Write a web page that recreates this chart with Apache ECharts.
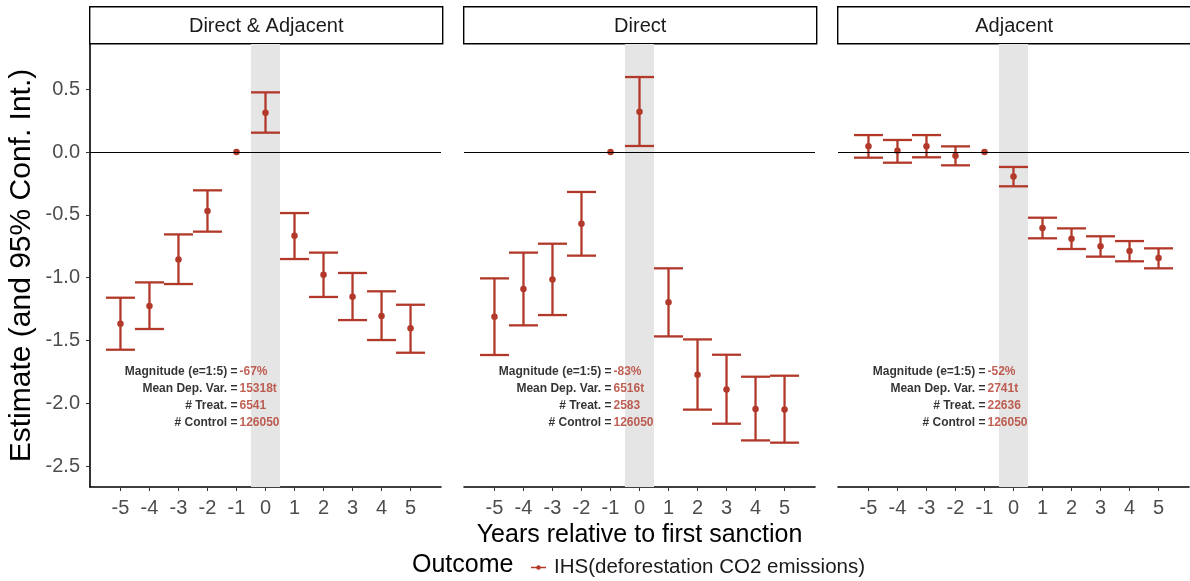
<!DOCTYPE html>
<html>
<head>
<meta charset="utf-8">
<script src="https://cdn.jsdelivr.net/npm/echarts@6/dist/echarts.min.js"></script>
<style>html,body{margin:0;padding:0;background:#fff}#c{width:1190px;height:581px}</style>
</head>
<body>
<div id="c"></div>
<script>
// ---------- data ----------
const events = [-5, -4, -3, -2, -1, 0, 1, 2, 3, 4, 5];
const panelTitles = ['Direct & Adjacent', 'Direct', 'Adjacent'];

const estDA = [-1.367, -1.226, -0.855, -0.470, 0, 0.313, -0.666, -0.977, -1.152, -1.306, -1.404];
const loDA  = [-1.574, -1.409, -1.051, -0.634, null, 0.154, -0.852, -1.154, -1.338, -1.497, -1.598];
const hiDA  = [-1.160, -1.038, -0.656, -0.305, null, 0.475, -0.486, -0.801, -0.963, -1.109, -1.216];

const estD = [-1.311, -1.091, -1.014, -0.571, 0, 0.321, -1.197, -1.773, -1.890, -2.046, -2.049];
const loD  = [-1.616, -1.380, -1.298, -0.825, null, 0.048, -1.468, -2.051, -2.163, -2.296, -2.314];
const hiD  = [-1.006, -0.801, -0.730, -0.318, null, 0.597, -0.926, -1.492, -1.614, -1.789, -1.781];

const estA = [0.045, 0.010, 0.045, -0.029, 0, -0.194, -0.605, -0.690, -0.751, -0.788, -0.844];
const loA  = [-0.045, -0.085, -0.042, -0.106, null, -0.273, -0.687, -0.772, -0.833, -0.870, -0.926];
const hiA  = [0.135, 0.096, 0.135, 0.045, null, -0.119, -0.523, -0.608, -0.671, -0.709, -0.767];

const xTicks = [-5, -4, -3, -2, -1, 0, 1, 2, 3, 4, 5];
const yTicks = [-2.5, -2.0, -1.5, -1.0, -0.5, 0.0, 0.5];

const statLabels = ['Magnitude (e=1:5) =', 'Mean Dep. Var. =', '# Treat. =', '# Control ='];
const statRowsY = [-1.75, -1.885, -2.02, -2.155];
const statX = -1;
const magnitude = ['-67%', '-83%', '-52%'];
const meanDep = ['15318t', '6516t', '2741t'];
const nTreat = ['6541', '2583', '22636'];
const nControl = ['126050', '126050', '126050'];

const seriesName = 'IHS(deforestation CO2 emissions)';
// ---------------------------

const RED = '#B2392A';
const FONT = 'Liberation Sans, Arial, sans-serif';
const panels = [
  {est: estDA, lo: loDA, hi: hiDA},
  {est: estD, lo: loD, hi: hiD},
  {est: estA, lo: loA, hi: hiA}
];
const gridLefts = [90, 464, 838];
const gridW = 351, gridTop = 44, gridH = 443;

const grids = [], xAxes = [], yAxes = [], series = [], graphics = [];

panels.forEach((p, i) => {
  grids.push({left: gridLefts[i], top: gridTop, width: gridW, height: gridH, outerBoundsMode: 'none', containLabel: false});
  xAxes.push({
    type: 'value', gridIndex: i, min: -6.05, max: 6.05,
    splitLine: {show: false},
    axisLine: {show: true, onZero: false, lineStyle: {color: '#000', width: 1.6}},
    axisTick: {show: true, length: 4, lineStyle: {color: '#333', width: 1}, customValues: xTicks},
    axisLabel: {show: true, customValues: xTicks, color: '#4d4d4d', fontSize: 20, margin: 11, fontFamily: FONT},
    name: i === 1 ? 'Years relative to first sanction' : '',
    nameLocation: 'middle', nameGap: 32,
    nameTextStyle: {color: '#000', fontSize: 25, fontFamily: FONT}
  });
  yAxes.push({
    type: 'value', gridIndex: i, min: -2.667, max: 0.86,
    splitLine: {show: false},
    axisLine: {show: i === 0, onZero: false, lineStyle: {color: '#000', width: 1.6}},
    axisTick: {show: i === 0, length: 4, lineStyle: {color: '#333', width: 1}, customValues: yTicks},
    axisLabel: {show: i === 0, customValues: yTicks, color: '#4d4d4d', fontSize: 20, margin: 10,
      fontFamily: FONT, formatter: v => v.toFixed(1)},
    name: i === 0 ? 'Estimate (and 95% Conf. Int.)' : '',
    nameLocation: 'middle', nameGap: 53,
    nameTextStyle: {color: '#000', fontSize: 30, fontFamily: FONT}
  });

  // shaded band + zero line
  series.push({
    type: 'line', xAxisIndex: i, yAxisIndex: i, data: [], silent: true, z: 1,
    markArea: {silent: true, itemStyle: {color: '#e5e5e5'}, data: [[{xAxis: -0.5}, {xAxis: 0.5}]]},
    markLine: {silent: true, symbol: ['none', 'none'], label: {show: false},
      lineStyle: {color: '#000', width: 1, type: 'solid'}, data: [{yAxis: 0}]}
  });

  // error bars
  const ebData = [];
  events.forEach((e, k) => { if (p.lo[k] !== null && p.hi[k] !== null) ebData.push([e, p.lo[k], p.hi[k]]); });
  series.push({
    type: 'custom', xAxisIndex: i, yAxisIndex: i, z: 3, silent: true,
    data: ebData,
    renderItem: (params, api) => {
      const x = api.value(0), lo = api.value(1), hi = api.value(2);
      const pl = api.coord([x, lo]), ph = api.coord([x, hi]);
      const xl = api.coord([x - 0.5, lo])[0], xr = api.coord([x + 0.5, lo])[0];
      const st = {stroke: RED, lineWidth: 2.3};
      return {type: 'group', children: [
        {type: 'line', shape: {x1: pl[0], y1: pl[1], x2: ph[0], y2: ph[1]}, style: st},
        {type: 'line', shape: {x1: xl, y1: pl[1], x2: xr, y2: pl[1]}, style: st},
        {type: 'line', shape: {x1: xl, y1: ph[1], x2: xr, y2: ph[1]}, style: st}
      ]};
    }
  });

  // points
  series.push({
    name: seriesName, type: 'scatter', xAxisIndex: i, yAxisIndex: i, z: 4,
    symbolSize: 6.5, itemStyle: {color: RED, opacity: 1},
    data: events.map((e, k) => [e, p.est[k]])
  });

  // stats text
  const vals = [magnitude[i], meanDep[i], nTreat[i], nControl[i]];
  series.push({
    type: 'scatter', xAxisIndex: i, yAxisIndex: i, z: 5, symbolSize: 0, silent: true,
    data: statRowsY.map((y, r) => ({value: [statX, y], lab: statLabels[r]})),
    label: {show: true, position: 'left', distance: -1, color: '#000', fontWeight: 'bold', fontSize: 12,
      fontFamily: FONT, formatter: pr => pr.data.lab}
  });
  series.push({
    type: 'scatter', xAxisIndex: i, yAxisIndex: i, z: 5, symbolSize: 0, silent: true,
    data: statRowsY.map((y, r) => ({value: [statX, y], val: vals[r]})),
    label: {show: true, position: 'right', distance: 3, color: RED, fontWeight: 'bold', fontSize: 12,
      fontFamily: FONT, formatter: pr => pr.data.val}
  });

  // strip
  graphics.push({
    type: 'group', left: gridLefts[i] - 1, top: 6,
    children: [
      {type: 'rect', shape: {x: 0, y: 0, width: gridW + 2, height: 37}, style: {fill: '#fff', stroke: '#000', lineWidth: 1.4}},
      {type: 'text', x: (gridW + 2) / 2, y: 19.5, style: {text: panelTitles[i], fill: '#1a1a1a', fontSize: 20,
        fontFamily: FONT, align: 'center', verticalAlign: 'middle'}}
    ]
  });
});

graphics.push({
  type: 'text', left: 412, top: 553,
  style: {text: 'Outcome', fill: '#000', fontSize: 25, fontFamily: FONT}
});

const chart = echarts.init(document.getElementById('c'), null, {renderer: 'canvas'});
chart.setOption({
  animation: false,
  backgroundColor: '#fff',
  grid: grids, xAxis: xAxes, yAxis: yAxes, series: series,
  legend: {
    left: 526, top: 552, data: [seriesName], itemWidth: 15, itemHeight: 10, itemGap: 10,
    icon: 'path://M0,8.5 L30,8.5 L30,11.5 L0,11.5 Z M15,14.5 A4.5,4.5 0 1 1 15,5.5 A4.5,4.5 0 1 1 15,14.5 Z',
    itemStyle: {color: RED},
    textStyle: {color: '#1a1a1a', fontSize: 20.5, fontFamily: FONT, padding: [0, 0, 0, 3]},
    selectedMode: false
  },
  graphic: graphics
});
</script>
</body>
</html>
